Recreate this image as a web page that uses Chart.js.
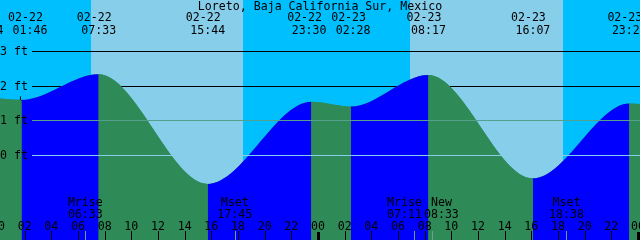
<!DOCTYPE html>
<html>
<head>
<meta charset="utf-8">
<script src="https://cdn.jsdelivr.net/npm/chart.js@4/dist/chart.umd.min.js"></script>
<style>
  html, body { margin: 0; padding: 0; background: #00bfff; }
  canvas { display: block; }
</style>
</head>
<body>
<canvas id="tideChart" width="640" height="240"></canvas>
<script>
const title = 'Loreto, Baja California Sur, Mexico';

// high / low tides; first and last lie just outside the window
const tideTimes = ['02-21 23:44', '02-22 01:46', '02-22 07:33', '02-22 15:44', '02-22 23:30',
                   '02-23 02:28', '02-23 08:17', '02-23 16:07', '02-23 23:21', '02-24 03:00'];
const tideHeights = [1.64, 1.59, 2.33, -0.83, 1.54, 1.40, 2.31, -0.67, 1.49, 1.30];

const sunriseTimes = ['02-22 06:58', '02-23 06:55'];
const sunsetTimes = ['02-22 18:22', '02-23 18:24'];

const moonTimes = ['02-22 06:33', '02-22 17:45', '02-23 07:11', '02-23 08:33', '02-23 18:38'];
const moonEvents = ['Mrise', 'Mset', 'Mrise', 'New', 'Mset'];

const heightTicks = [0, 1, 2, 3];
const tickDays = ['02-22', '02-23', '02-24'];
const hourLabels = ['00', '02', '04', '06', '08', '10', '12', '14', '16', '18', '20', '22'];

const markTime = '02-22 01:41';
const markHeight = 1.575;

const viewStart = '02-22 00:09';
const viewEnd = '02-24 00:09';
const heightMin = -2.447;
const heightMax = 4.47;

const NIGHT = '#00bfff';
const DAY = '#87ceeb';
const FLOOD = '#0000ff';
const EBB = '#2e8b57';
const FONT = '11.6px "DejaVu Sans Mono", monospace';

function toHours(s) {
  const [md, hm] = s.split(' ');
  const day = parseInt(md.split('-')[1], 10);
  const [h, m] = hm.split(':').map(Number);
  return (day - 22) * 24 + h + m / 60;
}

// push neighbouring labels apart so they don't overlap
function spread(centers, minGap) {
  const c = centers.slice();
  for (let i = 1; i < c.length; i++) {
    const d = c[i] - c[i - 1];
    if (d < minGap) {
      const s = (minGap - d) / 2;
      c[i - 1] -= s;
      c[i] += s;
    }
  }
  return c;
}

const tidePoints = tideTimes.map((t, i) => ({ x: toHours(t), y: tideHeights[i] }));

const tideDecor = {
  id: 'tideDecor',
  beforeDatasetsDraw(chart) {
    const { ctx, chartArea: a, scales: { x, y } } = chart;
    ctx.save();
    ctx.fillStyle = NIGHT;
    ctx.fillRect(a.left, a.top, a.width, a.height);
    ctx.fillStyle = DAY;
    sunriseTimes.forEach((t, i) => {
      const x0 = Math.round(x.getPixelForValue(toHours(t)));
      const x1 = Math.round(x.getPixelForValue(toHours(sunsetTimes[i])));
      ctx.fillRect(x0, a.top, x1 - x0, a.height);
    });
    // the upper height lines sit behind the water
    ctx.fillStyle = '#000';
    heightTicks.filter(v => v >= 2).forEach(v => {
      ctx.fillRect(32, Math.round(y.getPixelForValue(v)), a.right - 32, 1);
    });
    ctx.restore();
  },
  afterDatasetsDraw(chart) {
    const { ctx, chartArea: a, scales: { x, y } } = chart;
    ctx.save();

    // lower height lines drawn over the water
    ctx.fillStyle = '#55a08c';
    ctx.fillRect(32, Math.round(y.getPixelForValue(1)), a.right - 32, 1);
    ctx.fillStyle = DAY;
    ctx.fillRect(32, Math.round(y.getPixelForValue(0)), a.right - 32, 1);

    ctx.font = FONT;
    ctx.fillStyle = '#000';
    ctx.textBaseline = 'alphabetic';

    ctx.textAlign = 'left';
    heightTicks.forEach(v => {
      ctx.fillText(v + ' ft', 0, Math.round(y.getPixelForValue(v)) + 4);
    });

    ctx.textAlign = 'center';
    ctx.fillText(title, 320, 10);

    // tide labels along the top
    const tops = spread(tideTimes.map(t => x.getPixelForValue(toHours(t))), 44);
    tideTimes.forEach((t, i) => {
      const [d, hm] = t.split(' ');
      ctx.fillText(d, tops[i] - 4.5, 21);
      ctx.fillText(hm, tops[i], 33.5);
    });

    // moon events along the bottom
    const mx = moonTimes.map(t => x.getPixelForValue(toHours(t)));
    const bots = spread(mx, 37);
    moonTimes.forEach((t, i) => {
      ctx.fillText(moonEvents[i], bots[i], 206);
      ctx.fillText(t.split(' ')[1], bots[i], 218);
    });

    // hour ticks
    tickDays.forEach(d => {
      hourLabels.forEach(lab => {
        const hx = x.getPixelForValue(toHours(d + ' ' + lab + ':00'));
        if (hx < -10 || hx > a.right + 10) return;
        ctx.fillStyle = '#000';
        ctx.fillText(lab, hx, 230);
        const px = Math.round(hx);
        if (lab === '00') ctx.fillRect(px - 1, 232, 3, 8);
        else ctx.fillRect(px, 231, 1, 9);
      });
    });

    ctx.fillStyle = '#6f9f8f';
    mx.forEach(v => ctx.fillRect(Math.round(v), 231, 1, 9));

    ctx.restore();
  }
};

new Chart(document.getElementById('tideChart').getContext('2d'), {
  type: 'line',
  data: {
    datasets: [{
      // rising water blue, falling water green
      data: tidePoints,
      fill: 'start',
      cubicInterpolationMode: 'monotone',
      pointRadius: 0,
      borderWidth: 0,
      borderColor: 'rgba(0,0,0,0)',
      backgroundColor: EBB,
      segment: {
        backgroundColor: c => c.p1.parsed.y > c.p0.parsed.y ? FLOOD : EBB
      }
    }, {
      // plain underlay so the seams between segments don't show the sky
      data: tidePoints,
      order: 1,
      fill: 'start',
      cubicInterpolationMode: 'monotone',
      pointRadius: 0,
      borderWidth: 0,
      borderColor: 'rgba(0,0,0,0)',
      backgroundColor: EBB
    }, {
      data: [{ x: toHours(markTime), y: markHeight }],
      showLine: false,
      pointStyle: 'cross',
      pointRadius: 4,
      borderWidth: 1,
      borderColor: '#000',
      backgroundColor: '#000'
    }]
  },
  options: {
    responsive: false,
    animation: false,
    events: [],
    layout: { autoPadding: false, padding: 0 },
    scales: {
      x: { type: 'linear', min: toHours(viewStart), max: toHours(viewEnd), display: false },
      y: { min: heightMin, max: heightMax, display: false }
    },
    plugins: { legend: { display: false }, tooltip: { enabled: false } }
  },
  plugins: [tideDecor]
});
</script>
</body>
</html>
